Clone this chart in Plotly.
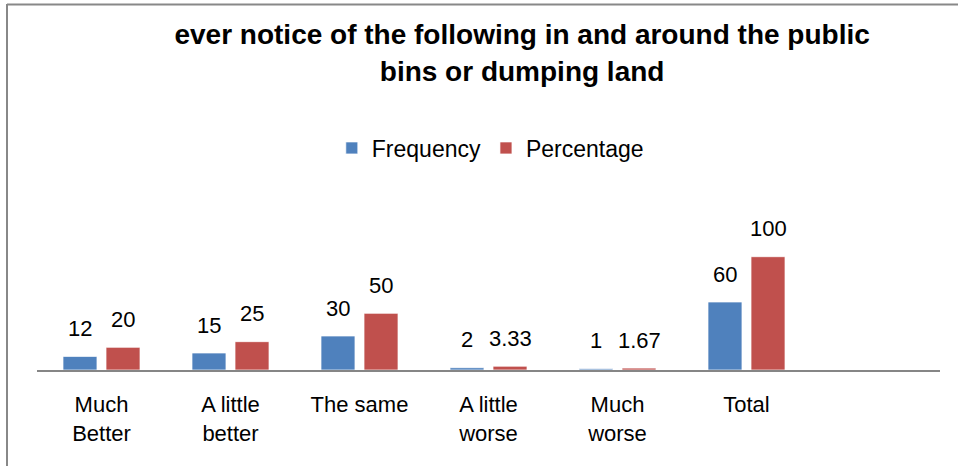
import plotly.graph_objects as go

categories = ["Much<br>Better", "A little<br>better", "The same", "A little<br>worse", "Much<br>worse", "Total"]
frequency = [12, 15, 30, 2, 1, 60]
percentage = [20, 25, 50, 3.33, 1.67, 100]
freq_labels = ["12", "15", "30", "2", "1", "60"]
pct_labels = ["20", "25", "50", "3.33", "1.67", "100"]

BLUE = "#4F81BD"
RED = "#C0504D"
FONT = "Liberation Sans, Arial, sans-serif"

fig = go.Figure()
fig.add_trace(go.Bar(name="Frequency", x=categories, y=frequency, marker_color=BLUE,
                     marker_line=dict(color="rgba(255,255,255,0.7)", width=1)))
fig.add_trace(go.Bar(name="Percentage", x=categories, y=percentage, marker_color=RED,
                     marker_line=dict(color="rgba(255,255,255,0.7)", width=1)))

annotations = []
for c, v, t in zip(categories, frequency, freq_labels):
    annotations.append(dict(x=c, y=v, text=t, showarrow=False, xshift=-21.5, yshift=28,
                            yanchor="middle", font=dict(size=22, color="black", family=FONT)))
for c, v, t in zip(categories, percentage, pct_labels):
    annotations.append(dict(x=c, y=v, text=t, showarrow=False, xshift=21.5, yshift=28,
                            yanchor="middle", font=dict(size=22, color="black", family=FONT)))

fig.update_layout(
    width=958, height=466,
    paper_bgcolor="white", plot_bgcolor="white",
    margin=dict(l=37, r=18, t=170, b=96),
    barmode="group", bargap=0.333, bargroupgap=0.21,
    font=dict(family=FONT, size=22, color="black"),
    title=dict(text="ever notice of the following in and around the public<br>bins or dumping land",
               x=0.545, xanchor="center", xref="container",
               y=0.905, yanchor="top", yref="container",
               font=dict(family=FONT, size=28, color="black", weight="bold")),
    legend=dict(orientation="h", x=0.502, xanchor="center", y=1.11, yanchor="middle",
                font=dict(size=23, family=FONT, color="black"), bgcolor="rgba(0,0,0,0)"),
    xaxis=dict(range=[-0.5, 6.5], showline=True, linecolor="#868686", linewidth=2,
               ticks="", showgrid=False, zeroline=False, ticklabelstandoff=14,
               tickfont=dict(size=22, family=FONT, color="black")),
    yaxis=dict(range=[0, 176.5], visible=False, showgrid=False, zeroline=False),
    annotations=annotations,
    shapes=[
        dict(type="line", xref="paper", yref="paper", x0=(7 - 37) / 903, x1=(958 - 37) / 903,
             y0=(370 - 4.5) / 200, y1=(370 - 4.5) / 200, line=dict(color="#888888", width=2)),
        dict(type="line", xref="paper", yref="paper", x0=(7 - 37) / 903, x1=(7 - 37) / 903,
             y0=(370 - 4) / 200, y1=(370 - 470) / 200, line=dict(color="#888888", width=2)),
    ],
    showlegend=True,
)

fig.write_html("out.html", config={"displayModeBar": False},
               post_script="document.body.style.margin='0';")
